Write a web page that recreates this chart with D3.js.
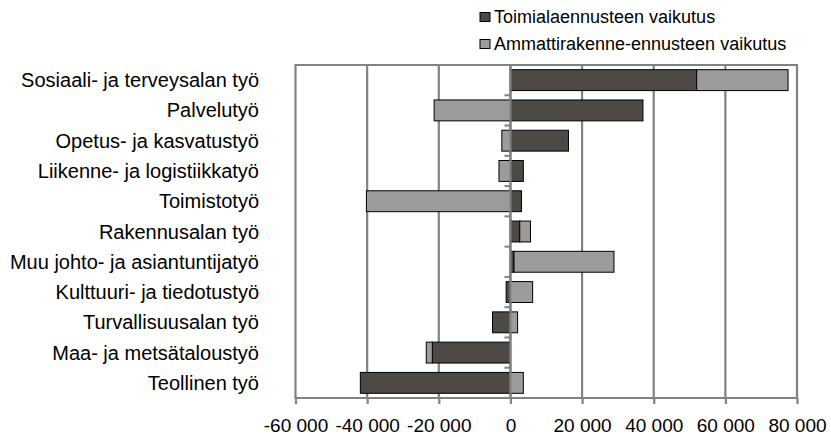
<!DOCTYPE html>
<html>
<head>
<meta charset="utf-8">
<script src="https://cdn.jsdelivr.net/npm/d3@7"></script>
<style>
  html, body { margin: 0; padding: 0; background: #ffffff; }
  svg { display: block; }
  text { font-family: "Liberation Sans", Arial, Helvetica, sans-serif; fill: #000; }
</style>
</head>
<body>
<svg id="chart" width="831" height="437"></svg>
<script>
// ---- data ----
const categories = [
  "Sosiaali- ja terveysalan työ",
  "Palvelutyö",
  "Opetus- ja kasvatustyö",
  "Liikenne- ja logistiikkatyö",
  "Toimistotyö",
  "Rakennusalan työ",
  "Muu johto- ja asiantuntijatyö",
  "Kulttuuri- ja tiedotustyö",
  "Turvallisuusalan työ",
  "Maa- ja metsätaloustyö",
  "Teollinen työ"
];
const seriesNames = ["Toimialaennusteen vaikutus", "Ammattirakenne-ennusteen vaikutus"];
const toimiala = [52000, 37000, 16200, 3600, 3100, 2600, 1000, -1200, -5000, -21800, -41900];
const ammatti  = [25500, -21300, -2400, -3200, -40200, 3000, 27900, 6200, 2000, -1700, 3600];
const xTicks = [-60000, -40000, -20000, 0, 20000, 40000, 60000, 80000];
const xDomain = [-60000, 80000];

// ---- layout ----
const svg = d3.select("#chart");
const plot = { left: 295.5, right: 797, top: 65, bottom: 398 };
const colors = ["#4d4944", "#9d9c9a"];
const gridColor = "#828282";

const x = d3.scaleLinear().domain(xDomain).range([plot.left, plot.right]);
const y = d3.scaleBand().domain(categories).range([plot.top, plot.bottom])
  .paddingInner(0.31).paddingOuter(0.155);

const table = categories.map((c, i) => ({ cat: c, s0: toimiala[i], s1: ammatti[i] }));
const stack = d3.stack().keys(["s0", "s1"]).offset(d3.stackOffsetDiverging);
const layers = stack(table);

// gridlines (behind bars)
svg.append("g").selectAll("line").data(xTicks).join("line")
  .attr("x1", d => x(d)).attr("x2", d => x(d))
  .attr("y1", plot.top).attr("y2", plot.bottom)
  .attr("stroke", gridColor).attr("stroke-width", 2.2);

// top border
svg.append("line")
  .attr("x1", plot.left - 1).attr("x2", plot.right + 1)
  .attr("y1", plot.top).attr("y2", plot.top)
  .attr("stroke", gridColor).attr("stroke-width", 2.2);

// bars
layers.forEach((layer, li) => {
  svg.append("g").selectAll("rect").data(layer).join("rect")
    .attr("x", d => x(Math.min(d[0], d[1])))
    .attr("y", d => y(d.data.cat))
    .attr("width", d => Math.abs(x(d[1]) - x(d[0])))
    .attr("height", y.bandwidth())
    .attr("fill", colors[li])
    .attr("stroke", "#000")
    .attr("stroke-width", 1);
});

// category axis at zero (line over bars, ticks at band boundaries to the left)
const step = y.step();
const boundaries = d3.range(1, categories.length).map(i => y(categories[i]) - (step - y.bandwidth()) / 2);
svg.append("g").selectAll("line").data(boundaries).join("line")
  .attr("x1", x(0) - 6).attr("x2", x(0))
  .attr("y1", d => d).attr("y2", d => d)
  .attr("stroke", gridColor).attr("stroke-width", 2);
svg.append("line")
  .attr("x1", x(0)).attr("x2", x(0))
  .attr("y1", plot.top).attr("y2", plot.bottom)
  .attr("stroke", gridColor).attr("stroke-width", 2.2);

// bottom x axis
const locale = d3.formatLocale({ decimal: ",", thousands: " ", grouping: [3], currency: ["", ""], minus: "-" });
const fmt = locale.format(",");
const xAxis = d3.axisBottom(x).tickValues(xTicks).tickFormat(fmt).tickSize(6).tickPadding(14.5).tickSizeOuter(0);
const gx = svg.append("g").attr("transform", `translate(0,${plot.bottom})`).call(xAxis);
gx.select(".domain").attr("stroke", gridColor).attr("stroke-width", 2.2)
  .attr("d", `M${plot.left - 1},0H${plot.right + 1}`);
gx.selectAll(".tick line").attr("stroke", gridColor).attr("stroke-width", 2.2);
gx.selectAll(".tick text")
  .style("font-family", '"Liberation Sans", Arial, sans-serif')
  .style("font-size", "19px").attr("fill", "#000");

// category labels
svg.append("g").selectAll("text").data(categories).join("text")
  .attr("x", 259)
  .attr("y", d => y(d) + y.bandwidth() / 2)
  .attr("dy", "0.35em")
  .attr("text-anchor", "end")
  .style("font-size", "20px")
  .text(d => d);

// legend
const lg = svg.append("g");
seriesNames.forEach((name, i) => {
  const ly = 17 + i * 27;
  lg.append("rect")
    .attr("x", 480).attr("y", ly - 4.5)
    .attr("width", 10).attr("height", 9)
    .attr("fill", colors[i]).attr("stroke", "#000").attr("stroke-width", 1);
  lg.append("text")
    .attr("x", 494).attr("y", ly).attr("dy", "0.35em")
    .style("font-size", "18px")
    .text(name);
});
</script>
</body>
</html>
